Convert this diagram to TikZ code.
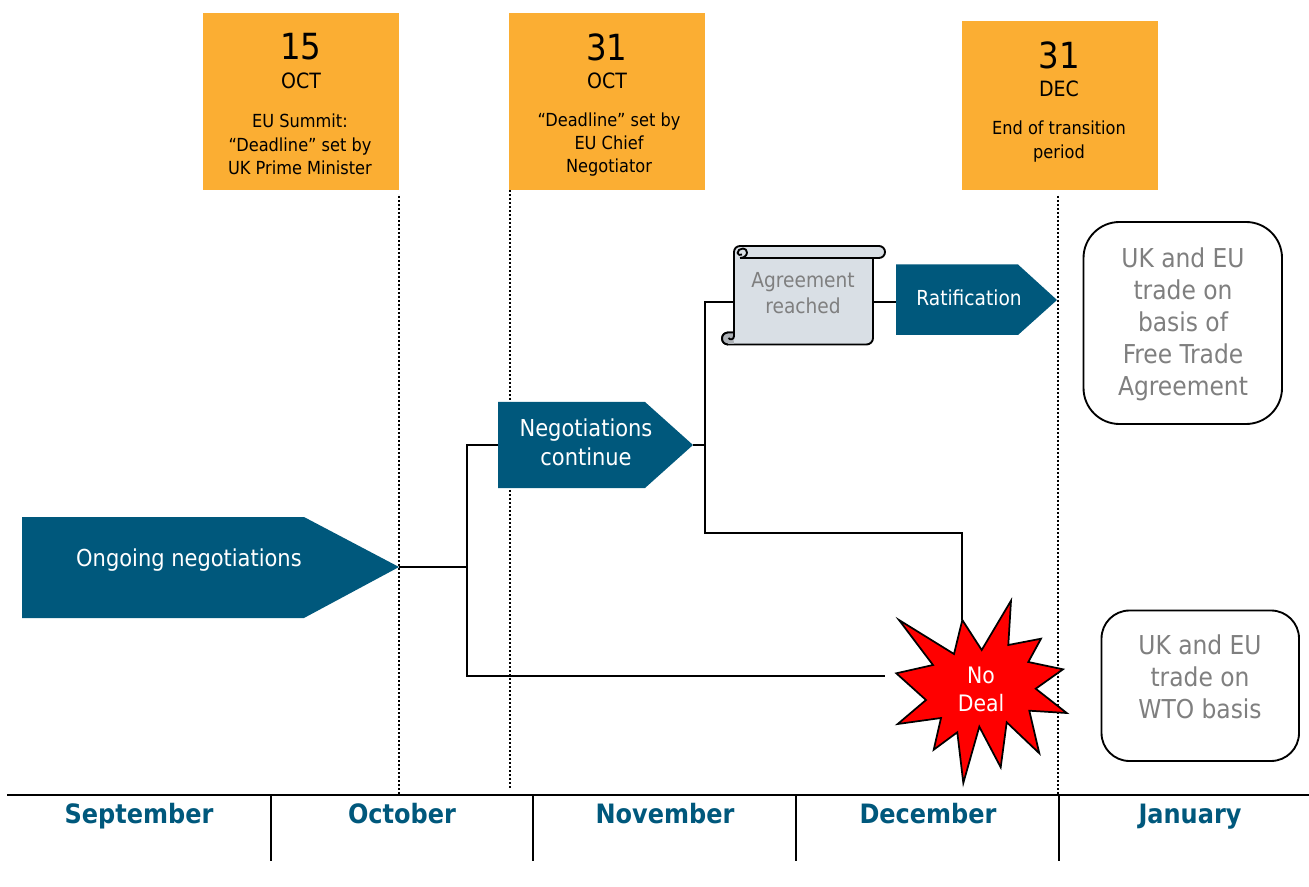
\documentclass[tikz,border=0pt]{standalone}
\usepackage{fontspec}
\setmainfont{DejaVu Sans Condensed}
\definecolor{navy}{HTML}{00587C}
\definecolor{amber}{HTML}{FBAE33}
\definecolor{scrollfill}{HTML}{D9DFE5}
\definecolor{softgray}{HTML}{7F7F7F}
\definecolor{curl}{HTML}{AEB2B7}
\newcommand{\fs}[1]{\fontsize{#1}{#1}\selectfont}
\tikzset{
  x=0.75pt,y=-0.75pt,
  conn/.style={draw=black,line width=1.3pt},
  guide/.style={draw=black,line width=0.9pt,dash pattern=on 1.2pt off 1.8pt},
  flag/.style={fill=navy,draw=none},
  flagtext/.style={text=white,align=center,inner sep=0pt},
  datebox/.style={fill=amber,draw=none},
  daynum/.style={inner sep=0pt,font=\fs{27}},
  monthabbr/.style={inner sep=0pt,font=\fs{15.8}},
  datenote/.style={inner sep=0pt,align=center,font=\fs{13.5}},
  outcome/.style={draw=black,line width=1.4pt,fill=white},
  outcometext/.style={text=softgray,align=center,inner sep=0pt,font=\fs{19.5}},
  monthname/.style={text=navy,inner sep=0pt,anchor=base,font=\fs{20}\bfseries},
  scrollline/.style={draw=black,line width=1.4pt,line join=round},
}
\begin{document}
\begin{tikzpicture}
\useasboundingbox (0,0) rectangle (1309,887);
\fill[white] (0,0) rectangle (1309,887);
% guides
\coordinate (g1a) at (399,196); \coordinate (g1b) at (399,794);
\coordinate (g2a) at (510,190); \coordinate (g2b) at (510,789);
\coordinate (g3a) at (1058,196); \coordinate (g3b) at (1058,794);
\draw[guide] (g1a) -- (g1b);
\draw[guide] (g2a) -- (g2b);
\draw[guide] (g3a) -- (g3b);
% date boxes
\fill[datebox] (203,13) rectangle (399,190);
\fill[datebox] (509,13) rectangle (705,190);
\fill[datebox] (962,21) rectangle (1158,190);
\node[daynum] (d1) at (301,47) {15};
\node[monthabbr] (m1) at (301,81) {OCT};
\node[datenote] (n1) at (300,144.5) {EU Summit:\\[4pt]“Deadline” set by\\[4pt]UK Prime Minister};
\node[daynum] (d2) at (607,47) {31};
\node[monthabbr] (m2) at (607,81) {OCT};
\node[datenote] (n2) at (609,144.5) {“Deadline” set by\\[4pt]EU Chief\\[4pt]Negotiator};
\node[daynum] (d3) at (1059,55) {31};
\node[monthabbr] (m3) at (1059,89) {DEC};
\node[datenote] (n3) at (1059,141.5) {End of transition\\[4pt]period};
% connector anchors
\coordinate (tipA) at (399,567);
\coordinate (splitA) at (467,567);
\coordinate (upA) at (467,445);
\coordinate (downA) at (467,676);
\coordinate (inB) at (498,445);
\coordinate (inStar) at (885,676);
\coordinate (tipB) at (693,445);
\coordinate (splitB) at (705,445);
\coordinate (upB) at (705,302);
\coordinate (downB) at (705,533);
\coordinate (inScroll) at (734,302);
\coordinate (outScroll) at (873,302);
\coordinate (inRat) at (896,302);
\coordinate (elbow) at (962,533);
\coordinate (topStar) at (962,620);
\draw[conn] (tipA) -- (splitA);
\draw[conn] (inB) -- (upA) -- (downA) -- (inStar);
\draw[conn] (tipB) -- (splitB);
\draw[conn] (inScroll) -- (upB) -- (downB) -- (elbow) -- (topStar);
\draw[conn] (outScroll) -- (inRat);
% flags
\fill[flag] (22,517) -- (304,517) -- (399,567) -- (304,618) -- (22,618) -- cycle;
\node[flagtext,font=\fs{17.5}] (ongoing) at (189,560) {Ongoing negotiations};
\fill[flag] (498,402) -- (645,402) -- (693,445) -- (645,488) -- (498,488) -- cycle;
\node[flagtext,font=\fs{17.5}] (cont) at (586,442.5) {Negotiations\\[4.3pt]continue};
\fill[flag] (896,264.5) -- (1018,264.5) -- (1057,300) -- (1018,335) -- (896,335) -- cycle;
\node[flagtext,font=\fs{15.5}] (rat) at (969,298) {Ratification};
% scroll
\draw[scrollline,fill=scrollfill]
  (734,252) .. controls (734,248.7) and (736.7,246) .. (740,246) -- (879,246)
  .. controls (882.3,246) and (885,248.7) .. (885,252)
  .. controls (885,255.3) and (882.3,258) .. (879,258) -- (873,258) -- (873,338)
  .. controls (873,341.6) and (870.1,344.5) .. (866.5,344.5) -- (728,344.5)
  .. controls (724.7,344.5) and (722,341.8) .. (722,338.5)
  .. controls (722,335.2) and (724.7,332.5) .. (728,332.5) -- (734,332.5) -- cycle;
\fill[curl] (734,344) -- (728,344) .. controls (725,344) and (722.5,341.8) .. (722.5,338.5)
  .. controls (722.5,335.2) and (725,333) .. (728,333) -- (733,333) -- cycle;
\draw[scrollline]
  (728,344.5) .. controls (724.7,344.5) and (722,341.8) .. (722,338.5)
  .. controls (722,335.2) and (724.7,332.5) .. (728,332.5) -- (734,332.5);
\draw[scrollline] (734,330) -- (734,336) .. controls (734,339.5) and (730,340.5) .. (728.5,338);
\draw[scrollline] (740,258) -- (873,258);
\draw[scrollline] (740,258) .. controls (744,258) and (747,255.5) .. (747,252.5)
  .. controls (747,250) and (745,248.5) .. (743,248.5)
  .. controls (740,248.5) and (737.5,250.5) .. (737.5,253)
  .. controls (738,255) and (740,255.5) .. (742,254.5);
\draw[scrollline] (734,252) -- (734,262);
\node[text=softgray,align=center,inner sep=0pt,font=\fs{15.5}] (agr) at (803,293) {Agreement\\[4pt]reached};
% star
\filldraw[draw=black,line width=1.3pt,fill=red,line join=miter]
  (962.3,620) -- (981.7,650) -- (1011,600.7) -- (1008.3,645) -- (1041,638.7) -- (1028.3,662)
  -- (1063,669.3) -- (1035.7,688.7) -- (1066.7,713) -- (1029.3,710.7) -- (1039.3,753.3)
  -- (1006.7,722.3) -- (1000.7,767.3) -- (979.3,726.7) -- (963.3,783) -- (957.3,732.3)
  -- (933.7,749.7) -- (941,718) -- (897.7,724) -- (926,700) -- (896.3,673.3) -- (933,665)
  -- (899,620) -- (954,654) -- cycle;
\node[flagtext,font=\fs{17}] (nodeal) at (981,689) {No\\[4pt]Deal};
% outcomes
\draw[outcome,rounded corners=27pt] (1083.5,222) rectangle (1282,424);
\node[outcometext] (fta) at (1183,324) {UK and EU\\[4.5pt]trade on\\[4.5pt]basis of\\[4.5pt]Free Trade\\[4.5pt]Agreement};
\draw[outcome,rounded corners=21pt] (1101.5,610.5) rectangle (1299,761);
\node[outcometext] (wto) at (1200,677) {UK and EU\\[4.5pt]trade on\\[4.5pt]WTO basis};
% timeline
\coordinate (axisL) at (7,795); \coordinate (axisR) at (1309,795);
\draw[conn,line width=1.4pt] (axisL) -- (axisR);
\foreach \tx/\tn in {271/t1,533/t2,796/t3,1059/t4}{
  \coordinate (\tn a) at (\tx,795); \coordinate (\tn b) at (\tx,861);
  \draw[conn,line width=1.4pt] (\tn a) -- (\tn b);
}
\node[monthname] (sep) at (139,823) {September};
\node[monthname] (oct) at (402,823) {October};
\node[monthname] (nov) at (665,823) {November};
\node[monthname] (dec) at (928,823) {December};
\node[monthname] (jan) at (1190,823) {January};
\end{tikzpicture}
\end{document}
